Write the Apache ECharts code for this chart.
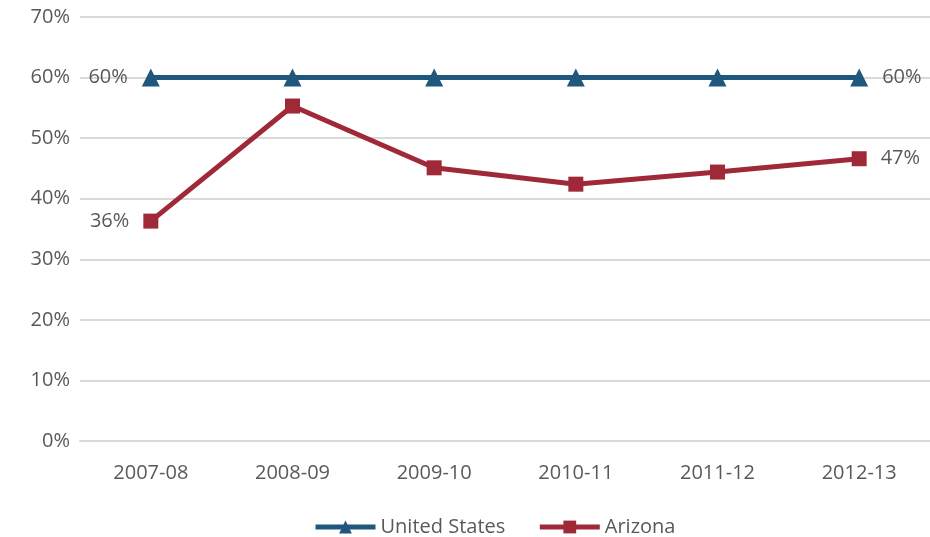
<!DOCTYPE html>
<html>
<head>
<meta charset="utf-8">
<script src="https://cdn.jsdelivr.net/npm/echarts@6/dist/echarts.min.js"></script>
<style>
  html, body { margin: 0; padding: 0; background: #fff; }
  #chart { width: 930px; height: 537px; }
</style>
</head>
<body>
<div id="chart"></div>
<script>
// 数据
var years = ['2007-08', '2008-09', '2009-10', '2010-11', '2011-12', '2012-13'];
var usValues = [60, 60, 60, 60, 60, 60];
var azValues = [36.3, 55.3, 45.1, 42.4, 44.4, 46.6];
var usLabels = ['60%', '', '', '', '', '60%'];
var azLabels = ['36%', '', '', '', '', '47%'];

var textColor = '#595959';
var fontFamily = '"Open Sans", "Noto Sans", sans-serif';
var fontSize = 20;

function edgeData(values, labels) {
    return values.map(function(v, i) {
        var item = { value: v };
        if (labels[i]) {
            item.label = {
                show: true,
                position: i === 0 ? 'left' : 'right',
                distance: 14,
                formatter: labels[i],
                fontSize: fontSize,
                color: textColor,
                fontFamily: fontFamily
            };
        }
        return item;
    });
}

function initEcharts() {
    var myChart = echarts.init(document.getElementById('chart'));

    var option = {
        animation: false,
        grid: {
            left: 80,
            right: 0,
            top: 17,
            bottom: 96
        },
        legend: {
            top: 512,
            left: 308,
            itemWidth: 60,
            itemHeight: 16,
            itemGap: 32,
            lineStyle: { width: 5 },
            textStyle: { fontSize: fontSize, color: textColor, fontFamily: fontFamily },
            data: ['United States', 'Arizona']
        },
        xAxis: {
            type: 'category',
            data: years,
            boundaryGap: true,
            axisLine: { lineStyle: { color: '#d9d9d9', width: 2 } },
            axisTick: { show: false },
            axisLabel: { fontSize: fontSize, color: textColor, fontFamily: fontFamily, margin: 22 }
        },
        yAxis: {
            type: 'value',
            min: 0,
            max: 70,
            interval: 10,
            axisLine: { show: false },
            axisTick: { show: false },
            axisLabel: {
                fontSize: fontSize,
                color: textColor,
                fontFamily: fontFamily,
                margin: 10,
                formatter: '{value}%'
            },
            splitLine: { lineStyle: { color: '#d9d9d9', width: 2 } }
        },
        series: [{
            name: 'United States',
            type: 'line',
            data: edgeData(usValues, usLabels),
            symbol: 'triangle',
            symbolSize: 18,
            lineStyle: { color: '#1f587c', width: 5 },
            itemStyle: { color: '#1f587c' },
            z: 3
        }, {
            name: 'Arizona',
            type: 'line',
            data: edgeData(azValues, azLabels),
            symbol: 'rect',
            symbolSize: 15,
            lineStyle: { color: '#a02938', width: 5 },
            itemStyle: { color: '#a02938' },
            z: 2
        }]
    };

    myChart.setOption(option);
}

initEcharts();
</script>
</body>
</html>
